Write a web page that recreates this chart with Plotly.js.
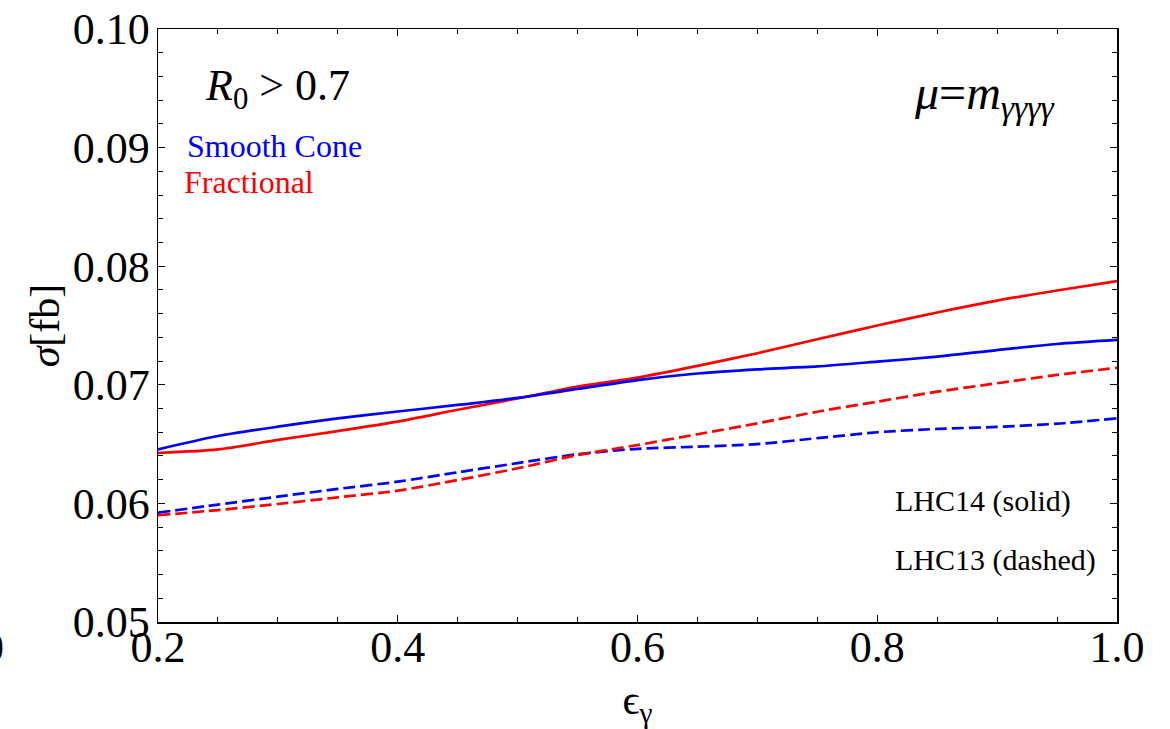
<!DOCTYPE html>
<html>
<head>
<meta charset="utf-8">
<script src="https://cdn.plot.ly/plotly-3.0.1.min.js"></script>
<style>html,body{margin:0;padding:0;background:#fff;}#chart{width:1170px;height:729px;}</style>
</head>
<body>
<div id="chart"></div>
<script>
const epsGamma = [0.2, 0.25, 0.3, 0.35, 0.4, 0.45, 0.5, 0.55, 0.6, 0.65, 0.7, 0.75, 0.8, 0.85, 0.9, 0.95, 1.0];
const smoothLHC14 = [0.06456, 0.06568, 0.06647, 0.06717, 0.06775, 0.06830, 0.06890, 0.06965, 0.07040, 0.07095, 0.07130, 0.07155, 0.07195, 0.07237, 0.07293, 0.07344, 0.07378];
const fracLHC14 = [0.06425, 0.06455, 0.06535, 0.06610, 0.06690, 0.06790, 0.06885, 0.06985, 0.07060, 0.07159, 0.07266, 0.07384, 0.07500, 0.07610, 0.07710, 0.07795, 0.07875];
const smoothLHC13 = [0.05922, 0.05990, 0.06057, 0.06122, 0.06183, 0.06262, 0.06340, 0.06415, 0.06460, 0.06478, 0.06500, 0.06550, 0.06600, 0.06628, 0.06645, 0.06672, 0.06717];
const fracLHC13 = [0.05900, 0.05944, 0.05995, 0.06051, 0.06107, 0.06197, 0.06296, 0.06408, 0.06492, 0.06583, 0.06675, 0.06773, 0.06858, 0.06942, 0.07013, 0.07083, 0.07144];
const yTicks = [0.05, 0.06, 0.07, 0.08, 0.09, 0.10];
const xTicks = [0.2, 0.4, 0.6, 0.8, 1.0];

const BLUE = '#0000ff', RED = '#ff0000';
const FONT = 'Liberation Serif, Times New Roman, serif';

function tr(y, color, dashed, name) {
  return {x: epsGamma, y: y, type: 'scatter', mode: 'lines', name: name,
    line: {color: color, width: 2.7, shape: 'spline', smoothing: 0.7, dash: dashed ? '12px,5px' : 'solid'},
    showlegend: false, hoverinfo: 'skip'};
}

const data = [
  tr(smoothLHC13, BLUE, true, 'Smooth Cone LHC13'),
  tr(fracLHC13, RED, true, 'Fractional LHC13'),
  tr(fracLHC14, RED, false, 'Fractional LHC14'),
  tr(smoothLHC14, BLUE, false, 'Smooth Cone LHC14')
];

const axisCommon = {
  showgrid: false, zeroline: false, showline: true, linecolor: '#000', linewidth: 1.5,
  mirror: 'allticks', ticks: 'inside', ticklen: 7, tickwidth: 1, tickcolor: '#000',
  tickfont: {family: FONT, size: 44, color: '#000'}
};

const layout = {
  width: 1170, height: 729,
  paper_bgcolor: '#fff', plot_bgcolor: '#fff',
  margin: {l: 158, r: 53, t: 29, b: 107},
  font: {family: FONT, color: '#000'},
  xaxis: Object.assign({}, axisCommon, {
    range: [0.2, 1.0], tickvals: xTicks, ticktext: xTicks.map(v => v.toFixed(1)),
    ticklabelstandoff: -14,
    minor: {dtick: 0.05, ticks: 'inside', ticklen: 5, tickcolor: '#000', tickwidth: 1, showgrid: false},
    title: {text: 'ϵ<sub>γ</sub>', font: {family: FONT, size: 42, color: '#000'}, standoff: 14}
  }),
  yaxis: Object.assign({}, axisCommon, {
    range: [0.05, 0.10], tickvals: yTicks, ticktext: yTicks.map(v => v.toFixed(2)),
    ticklabelstandoff: -2,
    minor: {dtick: 0.002, ticks: 'inside', ticklen: 5, tickcolor: '#000', tickwidth: 1, showgrid: false},
    title: {text: '<i>σ</i>[fb]', font: {family: FONT, size: 42, color: '#000'}, standoff: 0}
  }),
  annotations: [
    {xref: 'paper', yref: 'paper', x: (277 - 158) / 959, y: 1 - (88 - 29) / 593, xanchor: 'center', yanchor: 'middle', showarrow: false,
     text: '<i>R</i><sub>0</sub> &gt; 0.7', font: {family: FONT, size: 44, color: '#000'}},
    {xref: 'paper', yref: 'paper', x: (185 - 158) / 959, y: 1 - (146 - 29) / 593, xanchor: 'left', yanchor: 'middle', showarrow: false,
     text: 'Smooth Cone', font: {family: FONT, size: 32, color: BLUE}},
    {xref: 'paper', yref: 'paper', x: (182 - 158) / 959, y: 1 - (182 - 29) / 593, xanchor: 'left', yanchor: 'middle', showarrow: false,
     text: 'Fractional', font: {family: FONT, size: 32, color: RED}},
    {xref: 'paper', yref: 'paper', x: (984 - 158) / 959, y: 1 - (96 - 29) / 593, xanchor: 'center', yanchor: 'middle', showarrow: false,
     text: '<i>μ</i>=<i>m</i><sub><i>γγγγ</i></sub>', font: {family: FONT, size: 48, color: '#000'}},
    {xref: 'paper', yref: 'paper', x: (893 - 158) / 959, y: 1 - (501 - 29) / 593, xanchor: 'left', yanchor: 'middle', showarrow: false,
     text: 'LHC14 (solid)', font: {family: FONT, size: 30, color: '#000'}},
    {xref: 'paper', yref: 'paper', x: (893 - 158) / 959, y: 1 - (560 - 29) / 593, xanchor: 'left', yanchor: 'middle', showarrow: false,
     text: 'LHC13 (dashed)', font: {family: FONT, size: 30, color: '#000'}},
    {xref: 'paper', yref: 'paper', x: (6 - 158) / 959, y: 1 - (648 - 29) / 593, xanchor: 'right', yanchor: 'middle', showarrow: false,
     text: '0', font: {family: FONT, size: 44, color: '#000'}}
  ]
};

Plotly.newPlot('chart', data, layout, {staticPlot: true, displayModeBar: false});
</script>
</body>
</html>
